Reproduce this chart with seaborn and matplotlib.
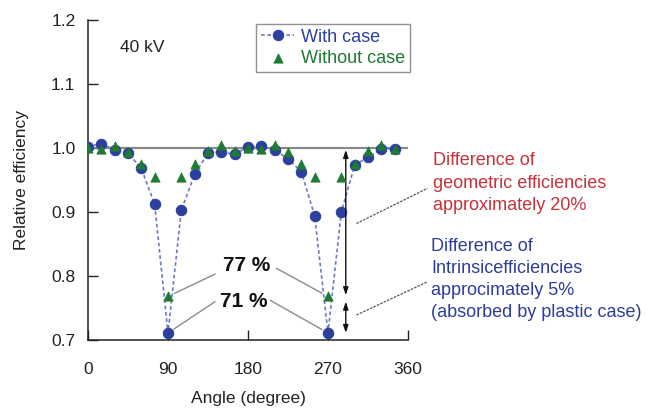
import numpy as np
import pandas as pd
import matplotlib
matplotlib.use("Agg")
import matplotlib.pyplot as plt
import seaborn as sns

# ---- data ----
angles = [0, 15, 30, 45, 60, 75, 90, 105, 120, 135, 150, 165,
          180, 195, 210, 225, 240, 255, 270, 285, 300, 315, 330, 345]
with_case = [1.002, 1.007, 0.997, 0.992, 0.968, 0.912, 0.711, 0.903, 0.959, 0.992, 0.994, 0.990,
             1.002, 1.003, 0.997, 0.983, 0.963, 0.894, 0.711, 0.900, 0.973, 0.986, 0.998, 0.999]
without_case = [1.000, 0.998, 1.003, 0.994, 0.975, 0.955, 0.768, 0.955, 0.975, 0.995, 1.004, 0.995,
                1.000, 0.999, 1.004, 0.994, 0.975, 0.954, 0.768, 0.954, 0.975, 0.995, 1.004, 0.999]
x_ticks = [0, 90, 180, 270, 360]
y_ticks = [0.7, 0.8, 0.9, 1.0, 1.1, 1.2]
series_names = ["With case", "Without case"]

df_with = pd.DataFrame({"angle": angles, "eff": with_case})
df_without = pd.DataFrame({"angle": angles, "eff": without_case})

sns.set_style("ticks")
plt.rcParams["font.family"] = ["Liberation Sans", "DejaVu Sans"]

BLUE = "#2b3f9e"
GREEN = "#1f7a33"
RED = "#c8303a"
TXTBLUE = "#2e3c9c"

fig = plt.figure(figsize=(6.46, 4.2), dpi=100)
ax = fig.add_axes([88 / 646, 80 / 420, 320 / 646, 320 / 420])

# reference line at 1.0
ax.axhline(1.0, color="#8a8a8a", lw=1.6, zorder=1)

sns.lineplot(data=df_with, x="angle", y="eff", ax=ax, color="#6f78c6",
             linestyle=(0, (2.2, 1.6)), lw=1.2, marker="o", markersize=7.5,
             markerfacecolor=BLUE, markeredgecolor=BLUE, label=series_names[0],
             zorder=3)
sns.scatterplot(data=df_without, x="angle", y="eff", ax=ax, color=GREEN,
                marker="^", s=45, edgecolor=GREEN, linewidth=0.5,
                label=series_names[1], zorder=4)

ax.set_xlim(0, 360)
ax.set_ylim(0.7, 1.2)
ax.set_xticks(x_ticks)
ax.set_yticks(y_ticks)
ax.set_yticklabels([f"{v:.1f}" for v in y_ticks])
ax.tick_params(axis="both", direction="in", length=7, width=1, labelsize=12.5,
               colors="#222222")
ax.tick_params(axis="x", pad=16)
ax.tick_params(axis="y", pad=9)
for s in ["top", "right"]:
    ax.spines[s].set_visible(False)
for s in ["left", "bottom"]:
    ax.spines[s].set_linewidth(1.1)
    ax.spines[s].set_color("#222222")

ax.set_xlabel("Angle (degree)", fontsize=12.5, color="#222222", labelpad=10)
ax.set_ylabel("Relative efficiency", fontsize=12.5, color="#222222", labelpad=16)

# legend
leg = ax.legend(loc="upper left", bbox_to_anchor=(0.515, 1.0), frameon=True,
                fancybox=False, edgecolor="#777777", fontsize=13,
                handlelength=1.8, handletextpad=0.4, borderpad=0.28,
                labelspacing=0.25, borderaxespad=0.2)
leg.get_frame().set_linewidth(1.0)
for t, c in zip(leg.get_texts(), [BLUE, GREEN]):
    t.set_color(c)

# 40 kV label
ax.text(36, 1.157, "40 kV", fontsize=12.5, color="#222222", va="center", ha="left")

# percentage annotations
ax.text(178, 0.817, "77 %", fontsize=15, fontweight="bold", color="#111111",
        ha="center", va="center")
ax.text(175, 0.760, "71 %", fontsize=15, fontweight="bold", color="#111111",
        ha="center", va="center")
lc = "#8c8c8c"
for (tx, ty), (px, py) in [((143, 0.803), (90, without_case[6])),
                           ((212, 0.812), (270, without_case[18])),
                           ((143, 0.760), (90, with_case[6])),
                           ((205, 0.762), (270, with_case[18]))]:
    ax.annotate("", xy=(px, py), xytext=(tx, ty),
                arrowprops=dict(arrowstyle="-", color=lc, lw=1.0,
                                shrinkA=0, shrinkB=5))

# double arrows
for y0, y1 in [(0.997, 0.770), (0.760, 0.711)]:
    ax.annotate("", xy=(290, y1), xytext=(290, y0),
                arrowprops=dict(arrowstyle="<|-|>,head_length=0.45,head_width=0.15",
                                color="#111111", lw=1.0, shrinkA=0, shrinkB=0),
                annotation_clip=False)

# dashed leader lines to side texts
for (x0, y0), (x1, y1) in [((302, 0.882), (382, 0.937)), ((302, 0.739), (382, 0.791))]:
    ax.plot([x0, x1], [y0, y1], color="#555555", lw=0.9, ls=(0, (2, 1)),
            clip_on=False)

fig.text(433 / 646, 1 - 183 / 420,
         "Difference of\ngeometric efficiencies\napproximately 20%",
         fontsize=13, color=RED, ha="left", va="center", linespacing=1.45)
fig.text(431 / 646, 1 - 279.5 / 420,
         "Difference of\nIntrinsicefficiencies\napprocimately 5%\n(absorbed by plastic case)",
         fontsize=13, color=TXTBLUE, ha="left", va="center", linespacing=1.36)

fig.savefig("out.png", dpi=100)
